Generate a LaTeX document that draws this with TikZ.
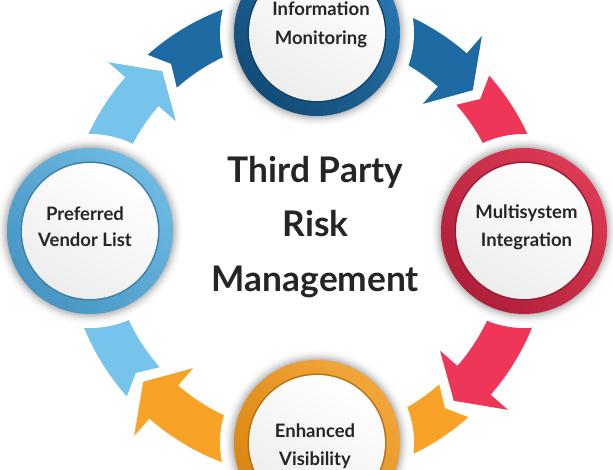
\documentclass[tikz,border=0pt]{standalone}
\usepackage{fontspec}
\setmainfont{Lato}
\definecolor{dblue}{HTML}{1E6AA3}
\definecolor{dblueL}{HTML}{2877B1}
\definecolor{dblueD}{HTML}{124C78}
\definecolor{redA}{HTML}{EF3658}
\definecolor{redL}{HTML}{DD3A55}
\definecolor{redD}{HTML}{B01F3A}
\definecolor{lblue}{HTML}{76C3EC}
\definecolor{lblueL}{HTML}{6DBAE3}
\definecolor{lblueD}{HTML}{4795C2}
\definecolor{orng}{HTML}{F8A227}
\definecolor{orngL}{HTML}{F2A63A}
\definecolor{orngD}{HTML}{D98410}
\definecolor{txt}{HTML}{262425}
\newcommand\cyclearrow[2]{%
  \pgfmathsetmacro\aT{#1+41.5}%
  \pgfmathsetmacro\aN{#1+38.5}%
  \pgfmathsetmacro\aB{#1-41}%
  \pgfmathsetmacro\aP{#1-48.5}%
  \fill[#2] (\aT:242) arc[start angle=\aT, end angle=\aB, radius=242]
    -- (\aB:265) -- (\aP:220) -- (\aB:175) -- (\aB:198)
    arc[start angle=\aB, end angle=\aT, radius=198] -- (\aN:220) -- cycle;}
\newcommand\stagecircle[4]{% center, light, dark, name
  \fill[white] (#1) circle[radius=97];
  \foreach \k in {0,...,12}{%
    \pgfmathsetmacro\rr{95-\k}%
    \pgfmathsetmacro\gg{30*(\k/12)^2}%
    \fill[black!\gg!white] (#1) circle[radius=\rr];}
  \shade[left color=#2, right color=#3, shading angle=-45] (#1) circle[radius=83];
  \fill[#3!85!black] (#1) circle[radius=69.5];
  \shade[top color=white, bottom color=black!7, shading angle=-30] (#1) circle[radius=68];
  \coordinate (#4) at (#1);}
\tikzset{
  label/.style={text=txt, font=\fontsize{18.5}{22}\selectfont\bfseries, anchor=base, inner sep=0pt},
  title/.style={text=txt, font=\fontsize{35.3}{40}\selectfont\bfseries, anchor=base, inner sep=0pt}
}
\begin{document}
\begin{tikzpicture}[x=1pt,y=1pt]
\useasboundingbox (0,0) rectangle (613,-470);
\fill[white] (0,0) rectangle (613,-470);
\begin{scope}[shift={(308,-236)}]
  \cyclearrow{90}{dblue}
  \cyclearrow{0}{redA}
  \cyclearrow{-90}{orng}
  \cyclearrow{180}{lblue}
\end{scope}
\stagecircle{317,-33}{dblueL}{dblueD}{cTop}
\stagecircle{524,-231}{redL}{redD}{cRight}
\stagecircle{317,-443}{orngL}{orngD}{cBottom}
\stagecircle{90,-231}{lblueL}{lblueD}{cLeft}
\node[title] (t1) at (315.5,-183) {Third Party};
\node[title] (t2) at (315.5,-237) {Risk};
\node[title] (t3) at (315.5,-292) {Management};
\node[label] (l1a) at (321,-16) {Information};
\node[label] (l1b) at (321,-45) {Monitoring};
\node[label] (l2a) at (526.5,-219) {Multisystem};
\node[label] (l2b) at (526.5,-247) {Integration};
\node[label] (l3a) at (315,-437) {Enhanced};
\node[label] (l3b) at (315,-465) {Visibility};
\node[label] (l4a) at (85,-220.5) {Preferred};
\node[label] (l4b) at (85,-247) {Vendor List};
\end{tikzpicture}
\end{document}
